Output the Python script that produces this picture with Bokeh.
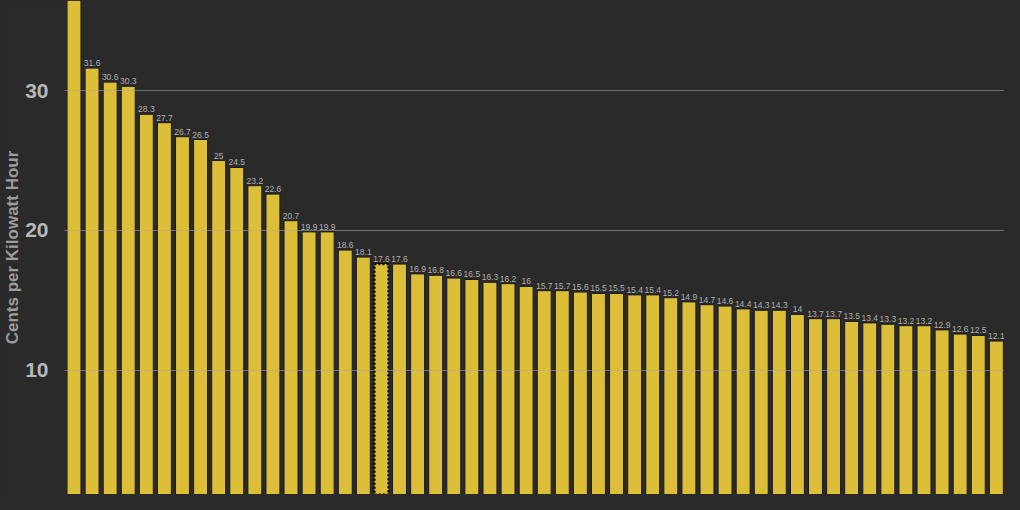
import re
from bokeh.plotting import figure
from bokeh.models import ColumnDataSource, Range1d, FixedTicker
from bokeh.embed import file_html
from bokeh.resources import INLINE
from bokeh.core.properties import value

# Data (cents per kWh), sorted descending
values = [37.5, 31.6, 30.6, 30.3, 28.3, 27.7, 26.7, 26.5, 25, 24.5, 23.2, 22.6,
          20.7, 19.9, 19.9, 18.6, 18.1, 17.6, 17.6, 16.9, 16.8, 16.6, 16.5,
          16.3, 16.2, 16, 15.7, 15.7, 15.6, 15.5, 15.5, 15.4, 15.4, 15.2, 14.9,
          14.7, 14.6, 14.4, 14.3, 14.3, 14, 13.7, 13.7, 13.5, 13.4, 13.3, 13.2,
          13.2, 12.9, 12.6, 12.5, 12.1]
# value labels; the first bar's label lies above the visible area in the reference
labels = [""] + [("%g" % v) for v in values[1:]]
highlight_index = 17  # the bar with the dotted outline
y_ticks = [10, 20, 30]
y_label = "Cents per Kilowatt Hour"

BG = "#2a2a2a"
BAR = "#dcbe38"

xs = list(range(1, len(values) + 1))
src = ColumnDataSource(dict(x=xs, top=values, label=labels))
hl = ColumnDataSource(dict(x=[xs[highlight_index]], top=[values[highlight_index]]))

p = figure(width=1004, height=494, output_backend="svg", toolbar_location=None,
           x_range=Range1d(0.475, 52.45), y_range=Range1d(1.14, 36.43),
           background_fill_color=BG, border_fill_color=BG,
           min_border_left=63, min_border_right=0, min_border_top=0, min_border_bottom=0)
p.outline_line_color = None

p.vbar(x="x", top="top", bottom=0, width=0.77, source=src,
       fill_color=BAR, line_color="#1c1c1c", line_width=1)
p.vbar(x="x", top="top", bottom=0, width=0.77, source=hl,
       fill_color=BAR, line_color="#000000", line_width=2.2, line_dash="2 2")

p.text(x="x", y="top", text="label", source=src, text_align="center",
       text_baseline="bottom", y_offset=-2, text_font_size="8.5px",
       text_color="#b0b0b0", text_font=value("Liberation Sans"))

p.xaxis.visible = False
p.xgrid.visible = False
p.ygrid.ticker = FixedTicker(ticks=y_ticks)
p.ygrid.grid_line_color = "#a8a8a8"
p.ygrid.grid_line_alpha = 0.55
p.ygrid.grid_line_width = 1
p.ygrid.level = "overlay"

ax = p.yaxis[0]
ax.ticker = FixedTicker(ticks=y_ticks)
ax.axis_line_color = None
ax.major_tick_line_color = None
ax.minor_tick_line_color = None
ax.major_tick_out = 0
ax.major_tick_in = 0
ax.minor_tick_out = 0
ax.major_label_text_font = "Liberation Sans"
ax.major_label_text_font_style = "bold"
ax.major_label_text_font_size = "21px"
ax.major_label_text_color = "#b8b8b8"
ax.major_label_standoff = 16
ax.axis_label = y_label
ax.axis_label_text_font = "Liberation Sans"
ax.axis_label_text_font_style = "bold"
ax.axis_label_text_font_size = "17px"
ax.axis_label_text_color = "#9c9c9c"
ax.axis_label_standoff = 0

html = file_html(p, INLINE)
style = "<style>html, body { background-color: %s; }</style>" % BG
html = html.replace("</head>", style + "</head>", 1)
html = re.sub(r"<body([^>]*)>", r'<body\1 style="background-color:%s;">' % BG, html, count=1)
open("out.html", "w").write(html)
